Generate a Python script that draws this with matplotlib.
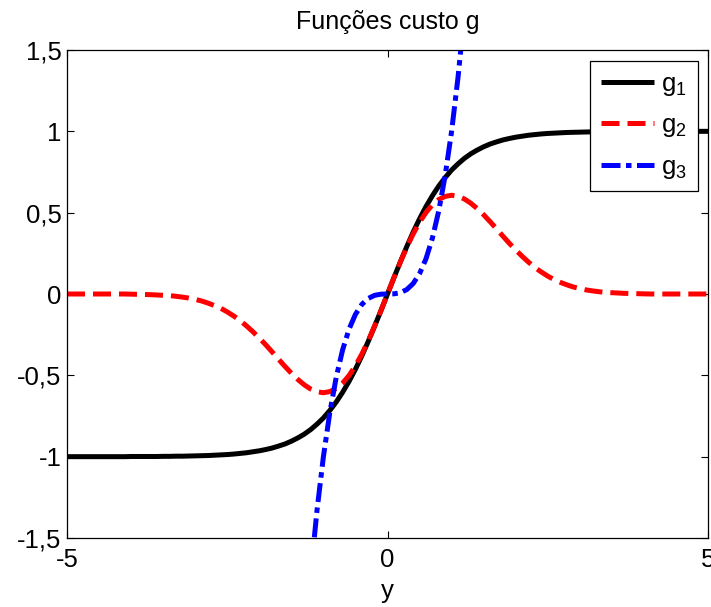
import numpy as np
import matplotlib
matplotlib.use("Agg")
import matplotlib.pyplot as plt

plt.rcParams["font.family"] = ["Liberation Sans", "DejaVu Sans"]
plt.rcParams["mathtext.fontset"] = "custom"
plt.rcParams["mathtext.rm"] = "Liberation Sans"
plt.rcParams["mathtext.it"] = "Liberation Sans"

nan = np.nan

# abscissa samples, y = -5.0 ... 5.0 in steps of 0.1
y = np.round(np.linspace(-5.0, 5.0, 101), 1)

g1 = [
    -1.000, -1.000, -1.000, -1.000, -1.000, -1.000, -1.000, -1.000, -1.000, -1.000,
    -0.999, -0.999, -0.999, -0.999, -0.999, -0.998, -0.998, -0.997, -0.997, -0.996,
    -0.995, -0.994, -0.993, -0.991, -0.989, -0.987, -0.984, -0.980, -0.976, -0.970,
    -0.964, -0.956, -0.947, -0.935, -0.922, -0.905, -0.885, -0.862, -0.834, -0.800,
    -0.762, -0.716, -0.664, -0.604, -0.537, -0.462, -0.380, -0.291, -0.197, -0.100,
    0.000,
    0.100, 0.197, 0.291, 0.380, 0.462, 0.537, 0.604, 0.664, 0.716, 0.762,
    0.800, 0.834, 0.862, 0.885, 0.905, 0.922, 0.935, 0.947, 0.956, 0.964,
    0.970, 0.976, 0.980, 0.984, 0.987, 0.989, 0.991, 0.993, 0.994, 0.995,
    0.996, 0.997, 0.997, 0.998, 0.998, 0.999, 0.999, 0.999, 0.999, 0.999,
    1.000, 1.000, 1.000, 1.000, 1.000, 1.000, 1.000, 1.000, 1.000, 1.000,
]

g2 = [
    0.000, 0.000, 0.000, 0.000, 0.000, 0.000, 0.000, 0.000, 0.000, 0.000,
    -0.001, -0.002, -0.003, -0.004, -0.006, -0.008, -0.010, -0.014, -0.019, -0.025,
    -0.033, -0.043, -0.056, -0.071, -0.088, -0.110, -0.135, -0.163, -0.196, -0.232,
    -0.271, -0.312, -0.356, -0.401, -0.445, -0.487, -0.525, -0.558, -0.584, -0.601,
    -0.607, -0.600, -0.581, -0.548, -0.501, -0.441, -0.369, -0.287, -0.196, -0.100,
    0.000,
    0.100, 0.196, 0.287, 0.369, 0.441, 0.501, 0.548, 0.581, 0.600, 0.607,
    0.601, 0.584, 0.558, 0.525, 0.487, 0.445, 0.401, 0.356, 0.312, 0.271,
    0.232, 0.196, 0.163, 0.135, 0.110, 0.088, 0.071, 0.056, 0.043, 0.033,
    0.025, 0.019, 0.014, 0.010, 0.008, 0.006, 0.004, 0.003, 0.002, 0.001,
    0.000, 0.000, 0.000, 0.000, 0.000, 0.000, 0.000, 0.000, 0.000, 0.000,
]

g3 = [
    nan, nan, nan, nan, nan, nan, nan, nan, nan, nan,
    nan, nan, nan, nan, nan, nan, nan, nan, nan, nan,
    nan, nan, nan, nan, nan, nan, nan, nan, nan, nan,
    nan, nan, nan, nan, nan, nan, nan, -2.197, -1.728, -1.331,
    -1.000, -0.729, -0.512, -0.343, -0.216, -0.125, -0.064, -0.027, -0.008, -0.001,
    0.000,
    0.001, 0.008, 0.027, 0.064, 0.125, 0.216, 0.343, 0.512, 0.729, 1.000,
    1.331, 1.728, 2.197, nan, nan, nan, nan, nan, nan, nan,
    nan, nan, nan, nan, nan, nan, nan, nan, nan, nan,
    nan, nan, nan, nan, nan, nan, nan, nan, nan, nan,
    nan, nan, nan, nan, nan, nan, nan, nan, nan, nan,
]

x_ticks = [-5, 0, 5]
x_tick_labels = ["-5", "0", "5"]
y_ticks = [-1.5, -1.0, -0.5, 0.0, 0.5, 1.0, 1.5]
y_tick_labels = ["-1,5", "-1", "-0,5", "0", "0,5", "1", "1,5"]

fs = 18.5

fig = plt.figure(figsize=(7.11, 6.07), dpi=100)
ax = fig.add_axes([67 / 711, 1 - 538 / 607, 641 / 711, 488 / 607])

lw = 3.6
ax.plot(y, g1, color="black", lw=lw, solid_capstyle="butt",
        label=r"g$_\mathregular{1}$")
ax.plot(y, g2, color="red", lw=lw, dashes=(3.6, 1.6),
        label=r"g$_\mathregular{2}$")
ax.plot(y, g3, color="blue", lw=lw, dashes=(3.8, 1.1, 1.1, 1.1),
        label=r"g$_\mathregular{3}$")

ax.set_xlim(-5, 5)
ax.set_ylim(-1.5, 1.5)
ax.set_xticks(x_ticks)
ax.set_xticklabels(x_tick_labels)
ax.set_yticks(y_ticks)
ax.set_yticklabels(y_tick_labels)
ax.tick_params(direction="in", length=5, width=0.8, labelsize=fs,
               top=True, right=True)
ax.tick_params(axis="x", pad=7)
ax.tick_params(axis="y", pad=4)
for s in ax.spines.values():
    s.set_linewidth(0.9)

ax.set_title("Funções custo g", fontsize=fs - 0.5, pad=15)
ax.set_xlabel("y", fontsize=fs, labelpad=5)

leg = ax.legend(loc="upper right", bbox_to_anchor=(698 / 711, 1 - 61 / 607),
                bbox_transform=fig.transFigure, borderaxespad=0,
                fontsize=fs, handlelength=2.05, labelspacing=0.6,
                handletextpad=0.3, borderpad=0.42, fancybox=False,
                framealpha=1)
leg.get_frame().set_edgecolor("black")
leg.get_frame().set_linewidth(0.9)

fig.savefig("out.png", dpi=100)
